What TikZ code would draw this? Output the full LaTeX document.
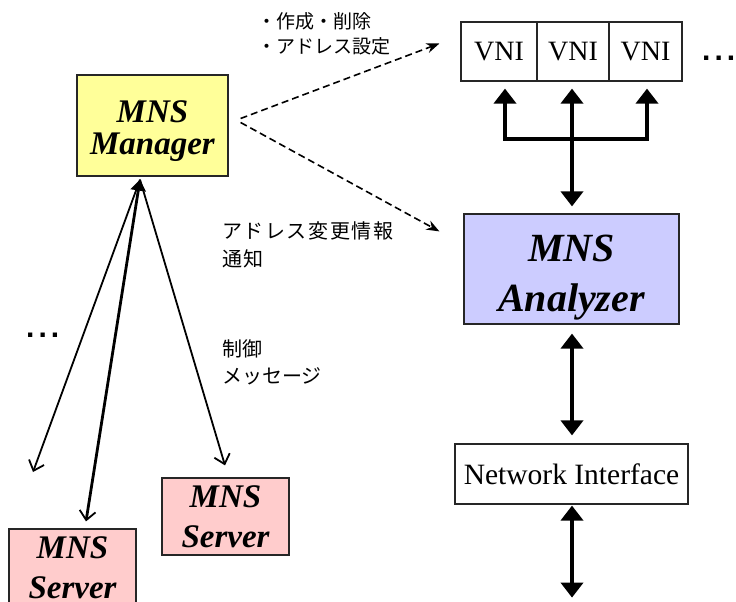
\documentclass[tikz,border=0pt]{standalone}
\usepackage{fontspec}
\setmainfont{Liberation Serif}
\newfontfamily\jpfont{Noto Sans CJK JP}
\newfontfamily\dotfont{Liberation Sans}
\usetikzlibrary{arrows.meta,calc}
\definecolor{mgrfill}{HTML}{FFFF99}
\definecolor{anafill}{HTML}{CCCCFF}
\definecolor{srvfill}{HTML}{FFCCCC}
\begin{document}
\begin{tikzpicture}[x=1pt,y=-1pt,
  box/.style={draw=black!85, line width=1.2pt, inner sep=0pt, align=center},
  vnibox/.style={box, minimum height=59pt, font=\fontsize{28}{30}\selectfont},
  mgrtext/.style={align=center, inner sep=0pt, font=\fontsize{33}{32}\selectfont\bfseries\itshape},
  anatext/.style={align=center, inner sep=0pt, font=\fontsize{40}{50}\selectfont\bfseries\itshape},
  srvtext/.style={font=\fontsize{33}{40}\selectfont\bfseries\itshape},
  jplabel/.style={inner sep=0pt, anchor=north west, align=left},
  dots/.style={inner sep=0pt, anchor=base west, font=\dotfont\fontsize{30}{30}\selectfont\bfseries},
  bigtip/.tip={Triangle[length=15pt,width=22pt]},
  bigarrow/.style={line width=4pt, line join=miter, {bigtip}-{bigtip}},
  barb/.tip={Straight Barb[length=9pt,width=16pt,line width=1.8pt]},
  ctrlarrow/.style={line width=1.8pt, -{barb}},
  mainctrl/.style={line width=2.8pt, {Triangle[length=11pt,width=15pt]}-{barb}},
  dasharrow/.style={line width=1.6pt, dash pattern=on 7pt off 4pt,
    -{Stealth[length=13pt,width=10pt]}}
]
\useasboundingbox (0,0) rectangle (736,602);

% manager, analyzer and interface blocks
\node[box, fill=mgrfill, minimum width=151pt, minimum height=101pt,
  label={[mgrtext, yshift=-6pt]center:{MNS\\Manager}}]
  (mgr) at (152.5,125.5) {};
\node[vnibox, minimum width=76pt] (vni1) at (499,51.5) {VNI};
\node[vnibox, minimum width=72pt] (vni2) at (573,51.5) {VNI};
\node[vnibox, minimum width=73pt] (vni3) at (645.5,51.5) {VNI};
\node[box, fill=anafill, minimum width=215pt, minimum height=110pt,
  label={[anatext, yshift=-9pt]center:{MNS\\Analyzer}}]
  (ana) at (571.5,269) {};
\node[box, minimum width=233pt, minimum height=60pt,
  font=\fontsize{29.5}{30}\selectfont] (ni) at (571.5,474) {Network Interface};
\node[box, srvtext, fill=srvfill, minimum width=127pt, minimum height=77pt]
  (srvR) at (225.5,516.5) {MNS\\Server};
\node[box, srvtext, fill=srvfill, minimum width=127pt, minimum height=77pt]
  (srvL) at (72.5,567.5) {MNS\\Server};

% ellipses for further instances
\node[dots] (moreV) at (702,61) {.\hspace{4pt}.\hspace{4pt}.};
\node[dots] (moreS) at (26,337) {.\hspace{4pt}.\hspace{4pt}.};

% labels
\node[jplabel, font=\jpfont\fontsize{19}{25}\selectfont] (lblA) at (257,12)
  {・作成・削除\\・アドレス設定};
\node[jplabel, font=\jpfont\fontsize{20}{28}\selectfont\addfontfeature{LetterSpace=8}]
  (lblB) at (222,221) {アドレス変更情報\\通知};
\node[jplabel, font=\jpfont\fontsize{20}{27}\selectfont] (lblC) at (222,339)
  {制御\\メッセージ};

% manager to VNIs and analyzer
\coordinate (d1s) at ($(mgr.east)+(12,-7)$);
\coordinate (d1e) at ($(vni1.west)+(-21,-8)$);
\coordinate (d2s) at ($(mgr.east)+(12,-3)$);
\coordinate (d2e) at ($(ana.north west)+(-24,18)$);
\draw[dasharrow] (d1s) -- (d1e);
\draw[dasharrow] (d2s) -- (d2e);

% VNI tree to analyzer
\coordinate (t1) at ($(vni1.south)+(6,7)$);
\coordinate (t2) at ($(vni2.south)+(-1,7)$);
\coordinate (t3) at ($(vni3.south)+(1.5,7)$);
\coordinate (j) at ($(t2)+(0,50)$);
\coordinate (a2) at ($(ana.north)+(0.5,-7)$);
\draw[bigarrow] (t1) -- (t1 |- j) -- (t3 |- j) -- (t3);
\draw[bigarrow] (t2) -- (a2);

% analyzer, interface and the wire
\coordinate (a3) at ($(ana.south)+(0.5,9)$);
\coordinate (n1) at ($(ni.north)+(0.5,-8)$);
\coordinate (n2) at ($(ni.south)+(0.5,1)$);
\coordinate (wire) at ($(ni.south)+(0.5,93)$);
\draw[bigarrow] (a3) -- (n1);
\draw[bigarrow] (n2) -- (wire);

% control messages to the servers
\coordinate (hub) at ($(mgr.south)+(-12.5,3)$);
\coordinate (offsrv) at (33,472);
\draw[ctrlarrow] (hub) -- (offsrv);
\draw[mainctrl] (hub) -- ($(srvL.north)+(13.5,-7)$);
\draw[ctrlarrow] (hub) -- ($(srvR.north)+(-0.5,-12)$);
\end{tikzpicture}
\end{document}
